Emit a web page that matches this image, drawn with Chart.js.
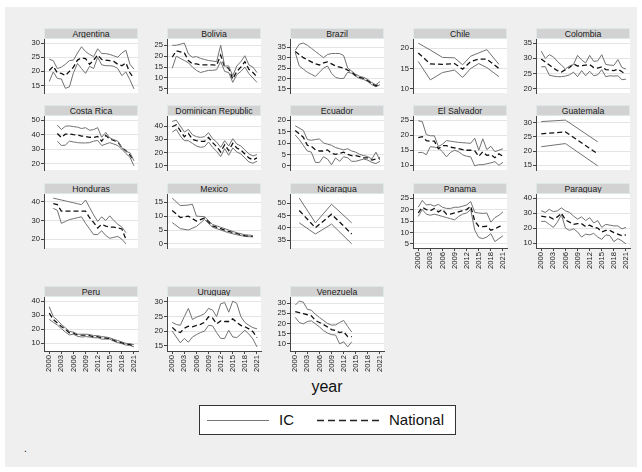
<!DOCTYPE html>
<html><head><meta charset="utf-8">
<script src="https://cdn.jsdelivr.net/npm/chart.js@4.4.1/dist/chart.umd.min.js"></script>
<style>
html,body{margin:0;padding:0;background:#fff;}
body{width:642px;height:472px;position:relative;overflow:hidden;font-family:'Liberation Sans',Arial,sans-serif;}
#bg{position:absolute;left:5px;top:7px;width:632px;height:460px;background:#efefef;}
.strip{position:absolute;height:11px;line-height:11px;background:#d2d2d2;border:1px solid #dfe7e9;box-sizing:border-box;text-align:center;font-size:8.7px;color:#1a1a1a;white-space:nowrap;overflow:hidden;}
canvas{position:absolute;}
#xtitle{position:absolute;left:277px;top:379px;width:100px;text-align:center;font-size:16px;line-height:16px;color:#111;}
#legend{position:absolute;left:199px;top:405px;width:257px;height:30px;background:#fff;border:1px solid #333;box-sizing:border-box;}
#legend span{position:absolute;top:0;line-height:28px;font-size:15px;color:#111;}
#legend svg{position:absolute;left:0;top:0;}
#note{position:absolute;left:24px;top:443px;font-size:10px;color:#111;}
</style></head><body>
<div id="bg"></div>
<div id="xtitle">year</div>
<div id="legend">
<svg width="255" height="28"><line x1="7" y1="14.5" x2="69" y2="14.5" stroke="#777" stroke-width="1.2"/><line x1="117" y1="14.5" x2="179" y2="14.5" stroke="#222" stroke-width="1.4" stroke-dasharray="7,4"/></svg>
<span style="left:79px">IC</span><span style="left:189px">National</span>
</div>
<div id="note">.</div>
<script>
const n = null;
const years = [2000,2001,2002,2003,2004,2005,2006,2007,2008,2009,2010,2011,2012,2013,2014,2015,2016,2017,2018,2019,2020,2021];
const xTicks = [2000,2003,2006,2009,2012,2015,2018,2021];
const countries = ['Argentina','Bolivia','Brazil','Chile','Colombia','Costa Rica','Dominican Republic','Ecuador','El Salvador','Guatemala','Honduras','Mexico','Nicaragua','Panama','Paraguay','Peru','Uruguay','Venezuela'];

// Argentina
const arUp  = [24.3,23.8,21.0,21.5,22.5,23.8,24.0,26.5,28.7,27.0,26.0,25.2,28.0,26.3,26.3,26.0,25.5,25.0,26.5,27.5,22.5,20.8];
const arNat = [20.3,21.8,19.5,19.3,18.5,20.0,21.5,24.0,24.8,24.5,22.5,24.0,25.8,24.2,24.0,23.8,23.5,22.5,22.0,23.0,19.5,17.5];
const arLow = [16.4,19.8,17.5,17.3,14.0,14.5,19.5,22.8,21.0,19.3,21.8,21.0,25.0,22.3,22.0,22.0,21.8,21.0,18.5,19.8,17.0,13.8];
const arTicks = [15,20,25,30];
// Bolivia
const boUp  = [25.0,25.0,25.5,26.0,21.0,19.5,19.8,19.0,18.5,18.0,17.8,17.5,25.0,15.5,15.5,11.0,15.5,17.5,20.2,16.0,15.0,12.5];
const boNat = [19.5,22.5,22.0,21.5,18.0,16.5,16.5,16.0,16.0,16.0,16.0,15.8,20.5,15.0,14.5,9.5,13.0,15.0,17.5,14.0,12.5,10.5];
const boLow = [14.5,20.0,19.0,18.0,17.0,15.0,13.5,12.5,13.0,13.5,13.5,13.8,17.5,13.0,12.5,8.0,11.5,13.0,15.0,12.0,10.0,8.0];
const boTicks = [5,10,15,20,25];
// Brazil
const brUp  = [33.5,36.5,37.0,36.0,34.5,33.0,31.5,30.0,31.5,32.0,32.0,32.0,31.0,25.0,23.5,22.0,21.0,20.5,19.5,18.0,17.0,18.5];
const brNat = [33.0,31.5,30.0,29.0,28.0,27.0,26.5,27.5,28.0,27.0,26.0,25.5,25.0,24.0,23.0,21.5,20.5,20.0,19.0,17.5,16.5,17.5];
const brLow = [32.5,26.0,24.5,23.0,22.0,21.0,23.0,25.0,26.0,22.5,20.5,20.0,20.0,23.0,22.5,21.0,20.0,19.5,18.5,17.0,16.0,17.0];
const brTicks = [15,20,25,30,35];
// Chile
const clUp  = [21.2,n,n,19.5,n,n,17.7,n,n,17.6,n,15.9,n,18.0,n,18.8,n,19.6,n,n,16.0,n];
const clNat = [18.8,n,n,16.1,n,n,16.0,n,n,16.2,n,14.8,n,16.7,n,17.3,n,17.3,n,n,15.0,n];
const clLow = [16.7,n,n,12.2,n,n,14.0,n,n,14.6,n,12.8,n,15.0,n,16.2,n,15.2,n,n,13.0,n];
const clTicks = [10,15,20];
// Colombia
const coUp  = [32.4,30.0,31.2,30.5,29.0,27.8,26.5,27.5,28.0,31.0,29.5,28.5,31.0,29.0,29.2,31.2,28.0,27.8,27.7,29.6,27.0,26.5];
const coNat = [29.8,28.8,27.8,26.8,26.0,25.5,26.3,27.0,28.2,27.5,27.6,27.8,28.0,27.0,26.8,27.2,26.3,26.2,26.0,26.5,25.6,24.8];
const coLow = [27.2,27.3,24.5,24.2,24.0,24.0,24.2,24.6,25.5,24.0,26.0,24.3,25.8,24.3,24.6,26.3,24.0,24.3,24.2,24.3,23.0,23.2];
const coTicks = [20,25,30,35];
// Costa Rica
const crUp  = [n,n,46.6,43.5,45.8,46.0,45.5,45.2,44.2,44.8,43.0,43.5,44.8,38.2,41.5,37.8,36.5,35.5,31.0,28.5,27.5,22.0];
const crNat = [n,n,40.8,38.0,40.3,40.5,40.0,39.8,39.0,38.8,38.2,38.0,38.8,35.5,39.5,37.0,36.0,35.0,31.0,29.0,26.0,22.5];
const crLow = [n,n,35.5,32.5,32.8,35.5,35.0,34.5,34.3,34.3,34.5,35.5,36.0,32.5,33.5,34.5,33.5,32.5,30.0,27.0,24.5,18.5];
const crTicks = [20,30,40,50];
// Dominican Republic
const drUp  = [43.5,44.5,40.0,35.5,37.5,33.5,32.0,31.5,32.0,35.0,30.5,28.0,24.0,29.0,25.0,30.5,26.5,25.0,22.0,19.0,17.5,18.5];
const drNat = [39.5,41.0,36.5,32.0,34.5,30.0,29.0,28.5,28.5,31.5,27.5,24.5,20.5,26.0,21.5,27.0,23.5,22.0,19.0,16.0,14.5,16.0];
const drLow = [35.5,37.5,32.5,29.0,29.0,27.0,25.0,24.0,24.5,28.0,24.0,21.0,17.0,23.0,18.0,23.5,20.5,19.0,16.0,13.0,12.0,13.5];
const drTicks = [10,20,30,40];
// Ecuador
const ecUp  = [17.5,16.5,15.5,11.5,11.2,11.5,11.8,10.0,9.5,9.0,8.0,7.5,7.0,7.5,6.5,6.0,5.0,4.5,4.0,3.0,6.0,2.5];
const ecNat = [15.5,14.0,12.5,9.0,8.5,7.0,6.5,6.5,7.0,5.5,5.0,5.5,6.0,5.0,4.5,4.5,4.0,3.5,3.5,2.5,3.0,3.5];
const ecLow = [13.5,11.5,9.0,6.5,6.0,1.5,1.5,4.0,3.0,0.5,3.5,2.0,4.0,3.5,2.0,2.0,2.5,3.0,2.5,1.5,1.0,2.0];
const ecTicks = [0,5,10,15,20];
// El Salvador
const esUp  = [24.8,24.5,20.2,19.8,19.8,16.2,17.0,18.2,18.0,17.8,17.6,17.5,17.4,17.3,19.0,15.0,18.8,15.2,16.3,14.5,15.0,15.5];
const esNat = [19.2,19.5,18.2,18.0,18.0,15.5,16.5,16.5,16.0,15.8,15.5,15.2,15.0,15.0,14.8,13.0,14.5,13.3,13.5,12.5,13.8,13.0];
const esLow = [14.2,14.3,13.5,16.2,16.0,15.8,14.5,12.8,14.3,15.0,14.5,13.5,13.0,12.8,9.8,10.2,10.2,10.5,10.8,11.2,10.0,11.0];
const esTicks = [10,15,20,25];
// Guatemala
const gtUp  = [30.3,n,n,n,n,n,30.8,n,n,n,n,n,n,n,23.2,n,n,n,n,n,n,n];
const gtNat = [26.0,n,n,n,n,n,26.7,n,n,n,n,n,n,n,19.0,n,n,n,n,n,n,n];
const gtLow = [21.5,n,n,n,n,n,22.6,n,n,n,n,n,n,n,14.8,n,n,n,n,n,n,n];
const gtTicks = [15,20,25,30];
// Honduras
const hnUp  = [n,42.0,41.5,41.0,40.5,40.0,39.5,39.0,38.5,41.0,37.0,33.0,29.5,32.0,30.0,32.5,30.0,28.0,26.5,23.5,n,n];
const hnNat = [n,39.0,38.5,35.0,35.0,35.0,35.0,35.0,35.0,35.0,31.5,29.0,26.0,28.0,27.0,26.5,26.5,26.0,25.5,20.0,n,n];
const hnLow = [n,36.5,35.5,28.5,29.5,30.5,31.0,31.5,32.0,28.5,25.5,22.5,22.5,24.5,22.0,20.5,21.0,21.5,20.0,17.5,n,n];
const hnTicks = [20,30,40];
// Mexico
const mxUp  = [16.5,n,13.8,n,14.0,14.3,10.0,n,9.8,n,7.0,n,6.0,n,5.0,n,4.0,n,3.3,n,3.0,n];
const mxNat = [12.0,n,9.5,n,10.0,n,8.2,n,9.3,n,6.5,n,5.5,n,4.5,n,3.8,n,3.0,n,2.8,n];
const mxLow = [7.7,n,5.5,n,5.0,n,6.3,n,8.8,n,6.0,n,5.0,n,4.0,n,3.3,n,2.7,n,2.5,n];
const mxTicks = [0,5,10,15];
// Nicaragua
const niUp  = [n,52.0,n,n,n,42.0,n,n,n,49.5,n,n,n,n,42.0,n,n,n,n,n,n,n];
const niNat = [n,47.0,n,n,n,40.0,n,n,n,45.5,n,n,n,n,37.5,n,n,n,n,n,n,n];
const niLow = [n,42.0,n,n,n,37.5,n,n,n,41.5,n,n,n,n,33.5,n,n,n,n,n,n,n];
const niTicks = [35,40,45,50];
// Panama
const paUp  = [21.0,24.0,22.0,22.2,21.5,22.3,21.0,20.5,20.5,21.0,21.0,21.5,22.0,23.5,18.8,18.5,18.3,18.5,14.5,16.5,17.5,19.0];
const paNat = [18.5,21.0,20.0,19.5,20.5,19.0,20.0,18.0,18.0,18.5,19.0,19.5,20.0,21.5,15.0,12.7,12.5,12.7,11.0,11.5,12.5,13.0];
const paLow = [17.0,20.0,18.0,17.5,18.0,17.5,17.0,16.5,16.0,15.5,17.0,18.0,18.5,20.0,11.0,7.8,7.3,8.0,9.5,6.0,7.3,8.5];
const paTicks = [5,10,15,20,25];
// Paraguay
const pyUp  = [31.5,30.5,32.5,31.0,31.5,33.5,31.5,30.5,28.0,26.0,27.5,25.0,27.0,23.5,25.0,20.5,22.5,22.0,21.5,21.5,19.5,20.5];
const pyNat = [28.0,27.5,27.5,26.0,27.5,30.0,25.5,24.0,22.5,23.0,23.0,21.0,22.0,20.5,20.0,17.5,18.5,18.5,17.0,16.0,15.0,15.5];
const pyLow = [24.5,24.5,22.5,20.5,24.0,29.0,20.0,18.5,19.5,17.5,14.0,16.0,15.5,16.5,14.0,12.5,15.5,15.0,11.0,13.0,11.5,9.5];
const pyTicks = [10,20,30,40];
// Peru
const peUp  = [36.0,29.0,26.5,23.5,21.0,18.5,18.0,16.5,16.5,16.5,16.3,15.5,15.5,14.8,14.5,14.0,12.8,12.0,11.0,10.0,9.8,9.0];
const peNat = [31.5,27.0,24.5,22.0,20.0,17.5,17.2,16.0,15.8,15.8,15.5,14.8,14.8,14.0,13.8,13.5,12.2,11.2,10.5,9.5,9.2,8.5];
const peLow = [27.0,25.0,23.0,20.5,18.0,16.0,16.5,15.0,14.5,14.8,14.5,14.0,14.0,13.0,13.0,13.0,11.5,10.5,9.8,8.8,8.5,7.5];
const peTicks = [10,20,30,40];
// Uruguay
const uyUp  = [23.0,22.3,22.0,25.0,27.8,24.0,24.8,25.3,26.0,27.8,27.2,25.0,29.4,29.8,26.5,30.3,29.5,25.0,23.0,22.0,21.2,20.8];
const uyNat = [21.3,20.0,19.5,21.0,21.7,21.5,22.0,22.3,23.0,24.9,24.5,22.5,23.5,23.3,23.3,24.2,23.0,22.0,21.5,20.8,19.8,17.8];
const uyLow = [20.0,18.0,16.0,17.5,16.2,18.0,18.8,19.5,20.0,22.0,21.8,19.5,17.5,17.5,20.3,18.0,17.8,19.0,20.3,19.0,17.3,14.6];
const uyTicks = [15,20,25,30];
// Venezuela
const veUp  = [29.0,31.0,30.5,27.0,26.5,24.5,23.0,21.5,20.0,19.2,19.3,20.5,21.5,18.5,15.8,n,n,n,n,n,n,n];
const veNat = [25.8,25.3,24.8,24.3,23.8,21.5,20.5,19.5,18.3,17.0,16.6,15.5,16.0,13.5,13.5,n,n,n,n,n,n,n];
const veLow = [23.0,20.5,19.8,21.0,21.3,19.8,18.3,16.5,15.3,14.5,14.3,10.0,11.0,8.5,11.0,n,n,n,n,n,n,n];
const veTicks = [10,15,20,25,30];

const series = [
  [arUp,arNat,arLow,arTicks],[boUp,boNat,boLow,boTicks],[brUp,brNat,brLow,brTicks],[clUp,clNat,clLow,clTicks],[coUp,coNat,coLow,coTicks],
  [crUp,crNat,crLow,crTicks],[drUp,drNat,drLow,drTicks],[ecUp,ecNat,ecLow,ecTicks],[esUp,esNat,esLow,esTicks],[gtUp,gtNat,gtLow,gtTicks],
  [hnUp,hnNat,hnLow,hnTicks],[mxUp,mxNat,mxLow,mxTicks],[niUp,niNat,niLow,niTicks],[paUp,paNat,paLow,paTicks],[pyUp,pyNat,pyLow,pyTicks],
  [peUp,peNat,peLow,peTicks],[uyUp,uyNat,uyLow,uyTicks],[veUp,veNat,veLow,veTicks]
];

Chart.defaults.font.family = "'Liberation Sans', Arial, sans-serif";

const bgPlugin = {id:'plotbg', beforeDraw(ch){const {ctx, chartArea:a} = ch; ctx.save(); ctx.fillStyle='#fff'; ctx.fillRect(a.left, a.top, a.right-a.left, a.bottom-a.top); ctx.restore();}};

const colX = [44,167,290,413,536];
const plotTop = [39,116,194,297];
const plotW = 94, plotH = 54, yAxW = 24, padT = 6;
const xAxisPanels = new Set(['Panama','Paraguay','Peru','Uruguay','Venezuela']);

countries.forEach((name, i) => {
  const [up, nat, low, ticks] = series[i];
  const col = i % 5, row = Math.floor(i / 5);
  const ax = colX[col], top = plotTop[row];
  const hasX = xAxisPanels.has(name);
  const s = document.createElement('div');
  s.className = 'strip'; s.textContent = name;
  s.style.left = ax + 'px'; s.style.top = (top - 11) + 'px'; s.style.width = plotW + 'px';
  document.body.appendChild(s);
  const c = document.createElement('canvas');
  const xH = hasX ? 24 : 0, padB = hasX ? 0 : 6;
  const W = yAxW + plotW + 2, H = padT + plotH + xH + padB;
  c.width = W; c.height = H;
  c.style.left = (ax - yAxW) + 'px'; c.style.top = (top - padT) + 'px';
  c.style.width = W + 'px'; c.style.height = H + 'px';
  document.body.appendChild(c);
  const vals = [...up, ...nat, ...low].filter(v => v !== null);
  const lo = Math.min(...vals, ticks[0]), hi = Math.max(...vals, ticks[ticks.length-1]);
  const pad = (hi - lo) * 0.09;
  const pts = a => years.map((y, k) => ({x: y, y: a[k]})).filter(p => p.y !== null);
  const icStyle = {borderColor:'#727272', borderWidth:1, pointRadius:0, tension:0, fill:false};
  new Chart(c, {
    type: 'line',
    data: {datasets: [
      Object.assign({label:'IC', data: pts(up)}, icStyle),
      {label:'National', data: pts(nat), borderColor:'#111', borderWidth:1.3, borderDash:[5,3], pointRadius:0, tension:0, fill:false},
      Object.assign({label:'IC', data: pts(low)}, icStyle)
    ]},
    options: {
      responsive:false, animation:false, devicePixelRatio:1,
      layout: {padding: {top: padT, bottom: padB, left: 0, right: 2}},
      plugins: {legend:{display:false}, tooltip:{enabled:false}},
      scales: {
        x: {type:'linear', min:1998.7, max:2022, display: hasX,
          afterBuildTicks: sc => { sc.ticks = xTicks.map(v => ({value: v})); },
          afterFit: sc => { sc.height = xH; sc.paddingLeft = 0; sc.paddingRight = 0; },
          grid: {display:true, drawOnChartArea:false, drawTicks:true, tickLength:3, tickColor:'#444'},
          border: {display:true, color:'#444', width:1},
          ticks: {autoSkip:false, minRotation:90, maxRotation:90, padding:1, font:{size:7.6}, color:'#222', callback: v => String(v)}
        },
        y: {type:'linear', min: lo - pad, max: hi + pad,
          afterBuildTicks: sc => { sc.ticks = ticks.map(v => ({value: v})); },
          afterFit: sc => { sc.width = yAxW; sc.paddingTop = 0; sc.paddingBottom = 0; },
          grid: {color:'#e4e4e4', lineWidth:1, drawTicks:true, tickLength:3, tickColor:'#444'},
          border: {display:true, color:'#444', width:1},
          ticks: {padding:1, font:{size:7.6}, color:'#222', callback: v => String(v)}
        }
      }
    },
    plugins: [bgPlugin]
  });
});
</script>
</body></html>
